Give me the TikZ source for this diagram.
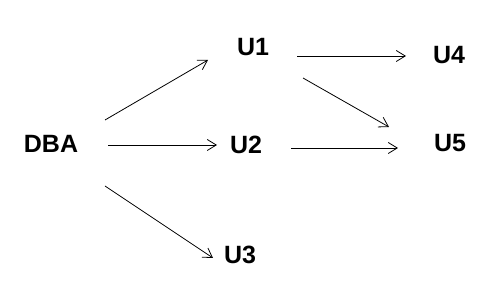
\documentclass[tikz,border=0pt]{standalone}
\usepackage{fontspec}
\setmainfont{Liberation Sans}
\usetikzlibrary{arrows.meta,calc}
\begin{document}
\begin{tikzpicture}[x=1pt,y=-1pt,
  lbl/.style={font=\fontsize{25}{28}\selectfont\bfseries, inner sep=0pt},
  arr/.style={draw=black, line width=0.8pt, -{Straight Barb[length=9pt,width=11pt,line width=0.8pt]}}]
\useasboundingbox (0,0) rectangle (496,296);
\node[lbl] (dba) at (51,143.5) {DBA};
\node[lbl] (u1) at (253,47) {U1};
\node[lbl] (u2) at (246,145) {U2};
\node[lbl] (u3) at (240,255) {U3};
\node[lbl] (u4) at (449,55) {U4};
\node[lbl] (u5) at (450,143.5) {U5};
\draw[arr] ($(dba)+(54,-23.5)$) -- ($(u1)+(-45,13)$);
\draw[arr] ($(dba)+(57,1.5)$) -- ($(u2)+(-29,0)$);
\draw[arr] ($(dba)+(54,42.5)$) -- ($(u3)+(-27,3)$);
\draw[arr] ($(u1)+(44,9)$) -- ($(u4)+(-43,1)$);
\draw[arr] ($(u1)+(50,31)$) -- ($(u5)+(-61,-16.5)$);
\draw[arr] ($(u2)+(45,3)$) -- ($(u5)+(-52,4.5)$);
\end{tikzpicture}
\end{document}
